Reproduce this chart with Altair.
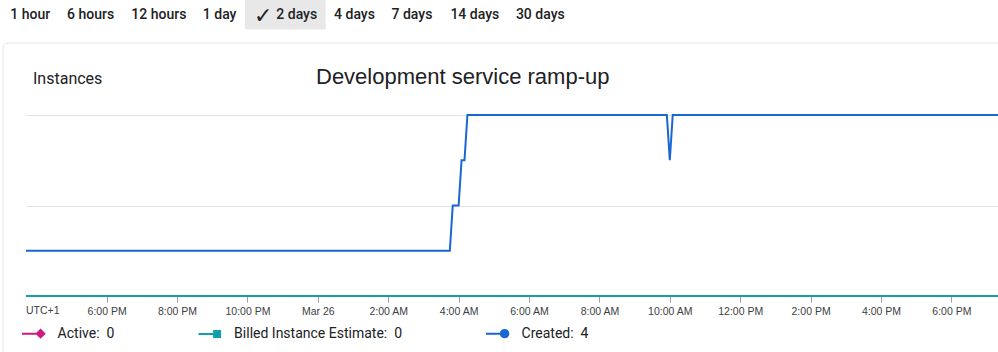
import altair as alt
import pandas as pd

# ------------------------------------------------------------------ data
SERIES = ["Active", "Billed Instance Estimate", "Created"]
SERIES_COLORS = ["#d01884", "#129eaf", "#1967d2"]

ZERO_TIMES = ["2020-03-25T15:42:30Z", "2020-03-26T19:19:30Z"]
ACTIVE = [0, 0]
BILLED = [0, 0]

CREATED_TIMES = [
    "2020-03-25T15:42:30Z", "2020-03-26T03:45:00Z", "2020-03-26T03:50:00Z",
    "2020-03-26T04:00:00Z", "2020-03-26T04:05:00Z", "2020-03-26T04:10:00Z",
    "2020-03-26T04:15:00Z", "2020-03-26T09:55:00Z", "2020-03-26T10:00:00Z",
    "2020-03-26T10:05:00Z", "2020-03-26T19:19:30Z",
]
CREATED = [1, 1, 2, 2, 3, 3, 4, 4, 3, 4, 4]

X_DOMAIN = ["2020-03-25T15:42:30Z", "2020-03-26T19:19:30Z"]
X_TICKS = [
    "2020-03-25T18:00:00Z", "2020-03-25T20:00:00Z", "2020-03-25T22:00:00Z",
    "2020-03-26T00:00:00Z", "2020-03-26T02:00:00Z", "2020-03-26T04:00:00Z",
    "2020-03-26T06:00:00Z", "2020-03-26T08:00:00Z", "2020-03-26T10:00:00Z",
    "2020-03-26T12:00:00Z", "2020-03-26T14:00:00Z", "2020-03-26T16:00:00Z",
    "2020-03-26T18:00:00Z",
]
Y_DOMAIN = [0, 4]
Y_GRID = [2, 4]

TIME_RANGES = ["1 hour", "6 hours", "12 hours", "1 day", "2 days",
               "4 days", "7 days", "14 days", "30 days"]
SELECTED_RANGE = "2 days"
CHART_TITLE = "Development service ramp-up"
Y_TITLE = "Instances"
TZ_LABEL = "UTC+1"

# ------------------------------------------------------------------ layout
W, H = 972, 181
PAD = {"left": 26, "top": 115, "right": 0, "bottom": 56}
BUTTON_X = [10.3, 67, 131.3, 202.8, 276.3, 334.1, 391.5, 450.4, 515.9]
CHECK_X = 254
SEL_BOX = (244.9, 325.7, 0, 29.5)

LEGEND_SHAPES = [
    "M-3.1,0H-0.62M-0.62,0L0,-0.62L0.62,0L0,0.62Z",
    "M-3.1,0H-0.5M-0.5,-0.5H0.5V0.5H-0.5Z",
    "M-3.1,0H-0.62M-0.62,0A0.62,0.62,0,1,0,0.62,0A0.62,0.62,0,1,0,-0.62,0Z",
]

TEXT = "#202124"
AXIS_TEXT = "#3c4043"


def ms(s):
    return int(pd.Timestamp(s).value // 1_000_000)


rows = []
for name, times, vals in [("Active", ZERO_TIMES, ACTIVE),
                          ("Billed Instance Estimate", ZERO_TIMES, BILLED),
                          ("Created", CREATED_TIMES, CREATED)]:
    for t, v in zip(times, vals):
        rows.append({"time": t, "value": v, "series": name})
df = pd.DataFrame(rows)

last = {"Active": ACTIVE[-1], "Billed Instance Estimate": BILLED[-1], "Created": CREATED[-1]}
label_expr = " : ".join(
    f"datum.label == '{k}' ? '{k}:\u00a0 {v}'" for k, v in last.items()
) + " : datum.label"

legend = alt.Legend(
    title=None, orient="none", direction="horizontal",
    legendX=7.6, legendY=211.5, padding=0,
    symbolSize=144, symbolStrokeWidth=2, labelOffset=10, columnPadding=79.5,
    labelFont="Roboto", labelFontSize=14, labelColor=TEXT, labelExpr=label_expr,
    labelLimit=0,
)

color = alt.Color("series:N", scale=alt.Scale(domain=SERIES, range=SERIES_COLORS), legend=legend)
shape = alt.Shape("series:N", scale=alt.Scale(domain=SERIES, range=LEGEND_SHAPES), legend=legend)

x_enc = alt.X(
    "time:T",
    scale=alt.Scale(type="utc", domain=[ms(d) for d in X_DOMAIN], nice=False),
    axis=alt.Axis(
        values=[ms(t) for t in X_TICKS], title=None, grid=False, domain=False,
        labelExpr="utchours(datum.value) == 0 ? utcFormat(datum.value, '%b %d') : utcFormat(datum.value, '%-I:%M %p')",
        tickColor="#9aa0a6", tickSize=6, labelFont="Liberation Sans", labelFontSize=10.5,
        labelColor=AXIS_TEXT, labelBaseline="alphabetic", labelPadding=12,
        labelFlush=False, labelOverlap=False,
    ),
)
y_enc = alt.Y(
    "value:Q",
    scale=alt.Scale(domain=Y_DOMAIN, nice=False),
    axis=alt.Axis(values=Y_GRID, grid=True, labels=False, ticks=False, domain=False,
                  title=None, gridColor="#e3e3e3"),
)

base = alt.Chart(df)
lines = base.mark_line(strokeWidth=2).encode(x=x_enc, y=y_enc, color=color)
legend_pts = base.mark_point(filled=True, opacity=1).transform_filter("false").encode(
    x=x_enc, y=y_enc, color=color, shape=shape
)

ONE = pd.DataFrame({"_": [0]})


def txt(text, x, y, **kw):
    return alt.Chart(ONE).mark_text(text=text, align="left", **kw).encode(
        x=alt.value(x - PAD["left"]), y=alt.value(y - PAD["top"])
    )


card = alt.Chart(ONE).mark_rect(fillOpacity=0, stroke="#e6e6e6", strokeWidth=1, cornerRadius=5).encode(
    x=alt.value(3 - PAD["left"]), x2=alt.value(1010), y=alt.value(43 - PAD["top"]), y2=alt.value(280)
)
sel_box = alt.Chart(ONE).mark_rect(fill="#e8e8e8").encode(
    x=alt.value(SEL_BOX[0] - PAD["left"]), x2=alt.value(SEL_BOX[1] - PAD["left"]),
    y=alt.value(SEL_BOX[2] - PAD["top"]), y2=alt.value(SEL_BOX[3] - PAD["top"]),
)

layers = [card, sel_box]
for label, bx in zip(TIME_RANGES, BUTTON_X):
    layers.append(txt(label, bx, 15.3, baseline="middle", font="Roboto", fontSize=14,
                      fontWeight=500, color=TEXT))
layers.append(txt("\u2713", CHECK_X, 16, baseline="middle", font="DejaVu Sans", fontSize=22,
                  fontWeight="bold", color=TEXT))
layers.append(txt(Y_TITLE, 33, 84, baseline="alphabetic", font="Roboto", fontSize=16, color=TEXT))
layers.append(txt(CHART_TITLE, 316, 83.5, baseline="alphabetic", font="Liberation Sans",
                  fontSize=22, color=TEXT))
layers.append(txt(TZ_LABEL, 26, 314.3, baseline="alphabetic", font="Liberation Sans",
                  fontSize=10.5, color=AXIS_TEXT))
layers += [lines, legend_pts]

chart = alt.layer(*layers).properties(
    width=W, height=H, padding=PAD, autosize=alt.AutoSizeParams(type="none"),
    background="white",
).configure_view(stroke=None)

chart.save("out.html", embed_options={"renderer": "svg", "actions": False})
